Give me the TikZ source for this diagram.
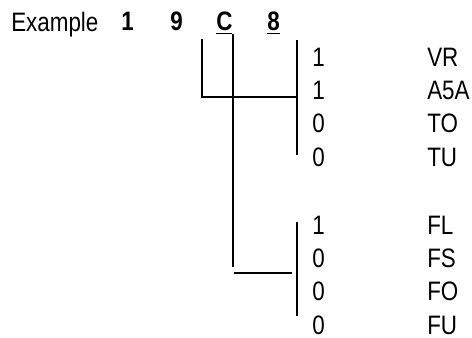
\documentclass[tikz,border=0pt]{standalone}
\usepackage{fontspec}
\setmainfont[FakeStretch=0.84]{Liberation Sans}
\usepackage{tikz}

\begin{document}
\begin{tikzpicture}[x=0.75pt,y=-0.75pt,font=\fontsize{20}{24}\selectfont]
                \useasboundingbox (0,0) rectangle (472,338);
                \coordinate (N) at (202,39);
                \coordinate (K) at (202,97);
                \coordinate (C) at (233,34);
                \coordinate (D) at (233,267);
                \coordinate (A) at (297,40);
                \coordinate (M) at (297,97);
                \coordinate (B) at (297,155);
                \coordinate (E) at (234,273);
                \coordinate (F) at (292,273);
                \coordinate (G) at (297,222);
                \coordinate (H) at (297,316);

                \node[anchor=base west, inner sep=0] (ex) at (11,32) {Example};
                \node[anchor=base west, inner sep=0] (d1) at (121,31) {\textbf{1}};
                \node[anchor=base west, inner sep=0] (d2) at (170,31) {\textbf{9}};
                \node[anchor=base west, inner sep=0] (d3) at (216,31) {\textbf{\underline{C}}};
                \node[anchor=base west, inner sep=0] (d4) at (267,31) {\textbf{\underline{8}}};

                \draw[very thick, black] (N) -- (K) -- (M);
                \draw[very thick, black] (C) -- (D);
                \draw[very thick, black] (A) -- (B);
                \draw[very thick, black] (E) -- (F);
                \draw[very thick, black] (G) -- (H);

                \node[anchor=west, inner sep=0] (b1) at (312,57) {1};
                \node[anchor=west, inner sep=0] (b2) at (312,90) {1};
                \node[anchor=west, inner sep=0] (b3) at (312,123) {0};
                \node[anchor=west, inner sep=0] (b4) at (312,157) {0};
                \node[anchor=west, inner sep=0] (b5) at (312,225) {1};
                \node[anchor=west, inner sep=0] (b6) at (312,258) {0};
                \node[anchor=west, inner sep=0] (b7) at (312,291) {0};
                \node[anchor=west, inner sep=0] (b8) at (312,325) {0};

                \node[anchor=west, inner sep=0] (vr) at (427,57) {VR};
                \node[anchor=west, inner sep=0] (a5a) at (427,90) {A5A};
                \node[anchor=west, inner sep=0] (to) at (427,123) {TO};
                \node[anchor=west, inner sep=0] (tu) at (427,157) {TU};
                \node[anchor=west, inner sep=0] (fl) at (427,225) {FL};
                \node[anchor=west, inner sep=0] (fs) at (427,258) {FS};
                \node[anchor=west, inner sep=0] (fo) at (427,291) {FO};
                \node[anchor=west, inner sep=0] (fu) at (427,325) {FU};
            \end{tikzpicture}
\end{document}
